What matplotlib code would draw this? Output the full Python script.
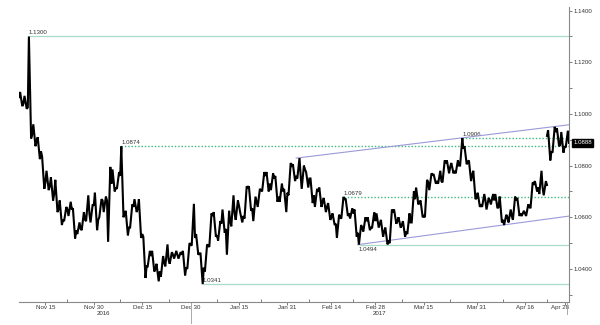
import numpy as np
import matplotlib
matplotlib.use("Agg")
import matplotlib.pyplot as plt
from matplotlib import transforms

plt.rcParams["font.family"] = ["Liberation Sans", "DejaVu Sans"]

# EUR/USD daily bars, one entry per business day, 7 Nov 2016 - 28 Apr 2017
highs = [
    1.1085, 1.1070, 1.1300, 1.0960, 1.0910,   # Nov 7 - 11
    1.0835, 1.0780, 1.0755, 1.0745, 1.0665,   # Nov 14 - 18
    1.0640, 1.0660, 1.0635, 1.0580, 1.0620,   # Nov 21 - 25
    1.0685, 1.0650, 1.0695, 1.0670, 1.0680,   # Nov 28 - Dec 2
    1.0795, 1.0785, 1.0775, 1.0874, 1.0625,   # Dec 5 - 9
    1.0650, 1.0670, 1.0670, 1.0525, 1.0470,   # Dec 12 - 16
    1.0470, 1.0420, 1.0450, 1.0495, 1.0465,   # Dec 19 - 23
    1.0470, 1.0465, 1.0470, 1.0500, 1.0652,   # Dec 26 - 30
    1.0535, 1.0460, 1.0495, 1.0615, 1.0620,   # Jan 2 - 6
    1.0585, 1.0630, 1.0625, 1.0685, 1.0665,   # Jan 9 - 13
    1.0620, 1.0720, 1.0720, 1.0680, 1.0710,   # Jan 16 - 20
    1.0775, 1.0775, 1.0770, 1.0760, 1.0730,   # Jan 23 - 27
    1.0710, 1.0810, 1.0805, 1.0829, 1.0800,   # Jan 30 - Feb 3
    1.0775, 1.0750, 1.0710, 1.0715, 1.0675,   # Feb 6 - 10
    1.0655, 1.0615, 1.0610, 1.0679, 1.0670,   # Feb 13 - 17
    1.0635, 1.0630, 1.0570, 1.0600, 1.0600,   # Feb 20 - 24
    1.0620, 1.0615, 1.0590, 1.0560, 1.0630,   # Feb 27 - Mar 3
    1.0630, 1.0600, 1.0585, 1.0615, 1.0700,   # Mar 6 - 10
    1.0715, 1.0665, 1.0745, 1.0770, 1.0765,   # Mar 13 - 17
    1.0780, 1.0820, 1.0820, 1.0810, 1.0820,   # Mar 20 - 24
    1.0906, 1.0875, 1.0820, 1.0780, 1.0695,   # Mar 27 - 31
    1.0690, 1.0675, 1.0690, 1.0690, 1.0680,   # Apr 3 - 7
    1.0610, 1.0630, 1.0680, 1.0675, 1.0625,   # Apr 10 - 14
    1.0650, 1.0735, 1.0740, 1.0780, 1.0740,   # Apr 17 - 21
    1.0937, 1.0950, 1.0945, 1.0930, 1.0935,   # Apr 24 - 28
]
lows = [
    1.1030, 1.1020, 1.0905, 1.0875, 1.0825,
    1.0710, 1.0705, 1.0665, 1.0620, 1.0570,
    1.0585, 1.0605, 1.0518, 1.0535, 1.0550,
    1.0585, 1.0580, 1.0550, 1.0600, 1.0620,
    1.0505, 1.0700, 1.0710, 1.0600, 1.0530,
    1.0560, 1.0620, 1.0520, 1.0365, 1.0410,
    1.0390, 1.0352, 1.0370, 1.0410, 1.0420,
    1.0440, 1.0440, 1.0375, 1.0400, 1.0490,
    1.0455, 1.0341, 1.0390, 1.0485, 1.0525,
    1.0510, 1.0540, 1.0455, 1.0565, 1.0590,
    1.0580, 1.0595, 1.0625, 1.0585, 1.0640,
    1.0700, 1.0700, 1.0705, 1.0660, 1.0660,
    1.0620, 1.0685, 1.0740, 1.0750, 1.0710,
    1.0715, 1.0655, 1.0640, 1.0640, 1.0620,
    1.0590, 1.0570, 1.0520, 1.0595, 1.0605,
    1.0595, 1.0525, 1.0494, 1.0545, 1.0550,
    1.0560, 1.0560, 1.0525, 1.0495, 1.0500,
    1.0575, 1.0560, 1.0525, 1.0535, 1.0580,
    1.0650, 1.0600, 1.0600, 1.0705, 1.0730,
    1.0730, 1.0735, 1.0770, 1.0770, 1.0770,
    1.0800, 1.0805, 1.0740, 1.0670, 1.0640,
    1.0640, 1.0630, 1.0650, 1.0635, 1.0580,
    1.0570, 1.0580, 1.0590, 1.0605, 1.0605,
    1.0605, 1.0635, 1.0700, 1.0690, 1.0685,
    1.0820, 1.0850, 1.0875, 1.0850, 1.0870,
]
closes = [
    1.1040, 1.1025, 1.0920, 1.0895, 1.0855,
    1.0735, 1.0720, 1.0690, 1.0630, 1.0590,
    1.0630, 1.0630, 1.0550, 1.0555, 1.0590,
    1.0615, 1.0645, 1.0590, 1.0665, 1.0665,
    1.0730, 1.0715, 1.0760, 1.0615, 1.0560,
    1.0640, 1.0635, 1.0535, 1.0410, 1.0450,
    1.0400, 1.0390, 1.0425, 1.0435, 1.0455,
    1.0455, 1.0455, 1.0405, 1.0495, 1.0520,
    1.0460, 1.0405, 1.0490, 1.0605, 1.0530,
    1.0575, 1.0555, 1.0585, 1.0615, 1.0645,
    1.0605, 1.0715, 1.0635, 1.0660, 1.0705,
    1.0760, 1.0730, 1.0750, 1.0680, 1.0700,
    1.0695, 1.0800, 1.0760, 1.0765, 1.0785,
    1.0750, 1.0685, 1.0700, 1.0660, 1.0640,
    1.0600, 1.0575, 1.0600, 1.0670, 1.0615,
    1.0615, 1.0540, 1.0560, 1.0585, 1.0560,
    1.0585, 1.0575, 1.0545, 1.0505, 1.0620,
    1.0585, 1.0570, 1.0545, 1.0580, 1.0670,
    1.0655, 1.0605, 1.0735, 1.0765, 1.0740,
    1.0740, 1.0810, 1.0795, 1.0780, 1.0800,
    1.0865, 1.0815, 1.0765, 1.0675, 1.0650,
    1.0665, 1.0665, 1.0665, 1.0640, 1.0590,
    1.0600, 1.0605, 1.0665, 1.0615, 1.0615,
    1.0640, 1.0730, 1.0715, 1.0715, 1.0725,
    1.0855, 1.0930, 1.0880, 1.0875, 1.0888,
]
first_open = 1.1065
gap_opens = {120: 1.0915}   # weekend gap after the French first round

# date axis labels (business-day index -> text)
tick_days = [6, 17, 28, 39, 50, 61, 71, 81, 92, 104, 115, 124]
tick_labels = ["Nov 15", "Nov 30", "Dec 15", "Dec 30", "Jan 15", "Jan 31",
               "Feb 14", "Feb 28", "Mar 15", "Mar 31", "Apr 16", "Apr 28"]
minor_days = [11, 23, 34, 45, 55, 66, 76, 87, 98, 110, 120]
years = ["2016", "2017"]
year_days = [19.3, 82]
year_break = 39

# support / resistance levels
levels = [1.1300, 1.0906, 1.0874, 1.0679, 1.0494, 1.0341]
level_dotted = [False, True, True, True, False, False]
level_label_below = [False, False, False, False, True, False]

# trend lines through two pivots each: (day, price)
upper_trend = [(63, 1.0829), (100, 1.0906)]
lower_trend = [(77, 1.0494), (110, 1.0570)]

n_days = len(closes)

# build a price path: open -> first extreme -> second extreme -> close
px, py = [0.0], [first_open]
prev = first_open
for i, (h, l, c) in enumerate(zip(highs, lows, closes)):
    o = prev
    if i in gap_opens:
        o = gap_opens[i]
        px += [np.nan, i]
        py += [np.nan, o]
    a, b = (l, h) if c >= o else (h, l)
    px += [i + 0.25, i + 0.75, i + 1]
    py += [a, b, c]
    prev = c
px = np.array(px)
py = np.array(py)

fig = plt.figure(figsize=(6, 3.25), dpi=100)
ax = fig.add_axes([19 / 600, 23 / 325, 550 / 600, 295 / 325])

solid_green = "#a9dcc6"
dot_green = "#3dbb7c"
trend_blue = "#9a9ad8"
label_col = "#333333"
fs = 4.4

for lev, dotted, below in zip(levels, level_dotted, level_label_below):
    x0 = px[np.where(np.isclose(py, lev))[0][0]]
    if dotted:
        ax.hlines(lev, x0, n_days, color=dot_green, lw=1.0,
                  linestyles=(0, (1, 1.4)), zorder=2)
    else:
        ax.hlines(lev, x0, n_days, color=solid_green, lw=0.9, zorder=2)
    ax.annotate(f"{lev:.4f}", (x0, lev), xytext=(0, -1.5 if below else 0.8),
                textcoords="offset points", ha="left",
                va="top" if below else "bottom", fontsize=fs, color=label_col)

for (d0, p0), (d1, p1) in (upper_trend, lower_trend):
    slope = (p1 - p0) / (d1 - d0)
    ax.plot([d0, n_days], [p0, p0 + slope * (n_days - d0)],
            color=trend_blue, lw=0.8, zorder=3)

ax.plot(px, py, color="black", lw=1.5, solid_joinstyle="miter", zorder=4)

ax.set_xlim(0, n_days)
ax.set_ylim(1.0272, 1.1414)

for side in ("top", "left"):
    ax.spines[side].set_visible(False)
for side in ("bottom", "right"):
    ax.spines[side].set_color("#888888")
    ax.spines[side].set_linewidth(0.8)

ax.yaxis.tick_right()
ax.set_yticks([1.04, 1.06, 1.08, 1.10, 1.12, 1.14])
ax.set_yticks([1.03, 1.05, 1.07, 1.09, 1.11, 1.13], minor=True)
ax.yaxis.set_major_formatter(matplotlib.ticker.FormatStrFormatter("%.4f"))
ax.tick_params(axis="y", which="both", direction="out", length=2, width=0.6,
               color="#666666", labelsize=fs, pad=1, labelcolor=label_col)

ax.set_xticks(tick_days)
ax.set_xticklabels(tick_labels)
ax.set_xticks(minor_days, minor=True)
ax.tick_params(axis="x", which="major", direction="out", length=2, width=0.6,
               color="#666666", labelsize=fs, pad=0.3, labelcolor=label_col)
ax.tick_params(axis="x", which="minor", direction="in", length=2, width=0.6,
               color="#666666")
last_lbl = ax.get_xticklabels()[-1]
last_lbl.set_transform(last_lbl.get_transform() +
                       transforms.ScaledTranslation(-5 / 100, 0, fig.dpi_scale_trans))

trans = transforms.blended_transform_factory(ax.transData, ax.transAxes)
for yr, d in zip(years, year_days):
    ax.text(d, -0.03, yr, transform=trans, ha="center", va="top",
            fontsize=fs, color=label_col)
ax.plot([year_break, year_break], [0, -0.07], transform=trans,
        color="#aaaaaa", lw=0.7, clip_on=False)
ax.plot([n_days - 0.5, n_days - 0.5], [0, -0.04], transform=trans,
        color="#aaaaaa", lw=0.7, clip_on=False)

# last price tag on the value axis
ax.annotate(f"{closes[-1]:.4f}", (n_days, closes[-1]), xytext=(3, 0),
            textcoords="offset points", ha="left", va="center", fontsize=fs,
            color="white", annotation_clip=False,
            bbox=dict(boxstyle="square,pad=0.2", fc="black", ec="black"))

fig.savefig("out.png", dpi=100)
plt.close(fig)
